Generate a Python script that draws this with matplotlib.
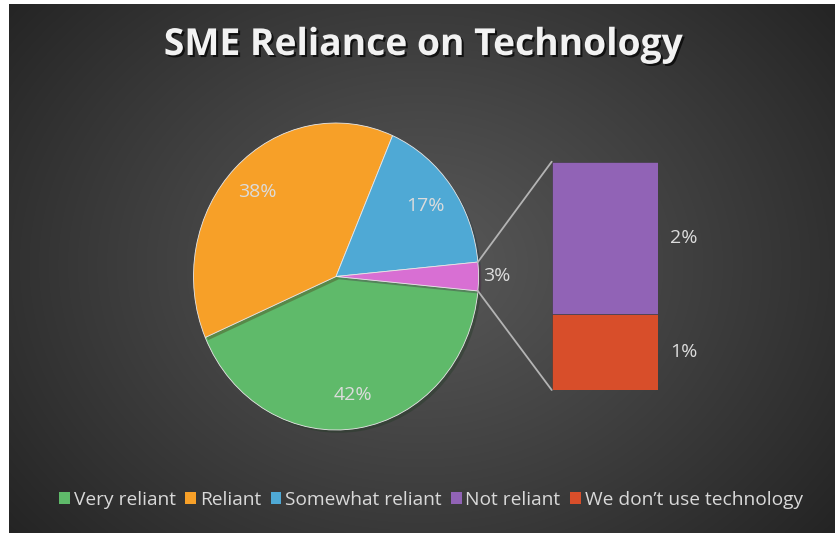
import numpy as np
import matplotlib
matplotlib.use("Agg")
import matplotlib.pyplot as plt
from matplotlib.patches import Patch, ConnectionPatch
import matplotlib.patheffects as pe

plt.rcParams['font.family'] = ['Open Sans', 'DejaVu Sans']

# ---- data ----
title = "SME Reliance on Technology"
categories = ["Very reliant", "Reliant", "Somewhat reliant", "Not reliant", "We don\u2019t use technology"]
values = [42, 38, 17, 2, 1]
colors = ["#5fba6a", "#f7a028", "#4fa9d5", "#9163b6", "#d84e2a"]
other_color = "#d86fd3"
other_count = 2  # last two categories are split out into the bar

W, H = 835, 533
fig = plt.figure(figsize=(W / 100, H / 100), dpi=100)
fig.patch.set_facecolor("white")


def box(x0, y0, x1, y1):
    """pixel box (top-left origin) -> figure fraction rect"""
    return [x0 / W, 1 - y1 / H, (x1 - x0) / W, (y1 - y0) / H]


# ---- radial gradient background ----
bg = fig.add_axes(box(9, 4, W, H))
bg.set_axis_off()
gx, gy = np.meshgrid(np.linspace(9, W, 400), np.linspace(4, H, 260))
cx, cy = 420, 265
d = np.hypot(gx - cx, (gy - cy) * 1.25)
d = np.clip(d / d.max(), 0, 1)
c0 = np.array([0x58, 0x58, 0x58]) / 255
c1 = np.array([0x24, 0x24, 0x24]) / 255
img = c0[None, None, :] + (c1 - c0)[None, None, :] * (d ** 1.1)[..., None]
bg.imshow(img, aspect="auto", extent=(0, 1, 0, 1), interpolation="bilinear")
bg.set_xlim(0, 1)
bg.set_ylim(0, 1)

# ---- main pie ----
main_vals = values[:-other_count] + [sum(values[-other_count:])]
main_cols = colors[:-other_count] + [other_color]
total = sum(values)
start = 360 - 180 * main_vals[-1] / total  # centre the combined slice on the right

axp = fig.add_axes(box(193.5, 123, 478.5, 430))
wedges, _ = axp.pie(
    main_vals, colors=main_cols, startangle=start, counterclock=False,
    radius=1.0, wedgeprops=dict(edgecolor="#e8e8e8", linewidth=0.6),
)
for w in wedges:
    w.set_path_effects([pe.SimplePatchShadow(offset=(2, -2), alpha=0.35), pe.Normal()])
axp.set_aspect("auto")
axp.set_xlim(-1, 1)
axp.set_ylim(-1, 1)
axp.set_axis_off()

label_color = "#dcdcdc"
for w, v in zip(wedges, main_vals):
    mid = np.deg2rad((w.theta1 + w.theta2) / 2)
    if v >= 5:
        axp.text(0.78 * np.cos(mid), 0.78 * np.sin(mid), f"{v}%", ha="center", va="center",
                 fontsize=14, color=label_color)
    else:
        axp.text(1.03 * np.cos(mid), np.sin(mid), f"{v}%", ha="left", va="center",
                 fontsize=14, color=label_color)

# ---- stacked bar for the split-out slice ----
axb = fig.add_axes(box(551.7, 161.7, 658.3, 390))
bottom = 0
sub_vals = values[-other_count:][::-1]
sub_cols = colors[-other_count:][::-1]
for v, c in zip(sub_vals, sub_cols):
    axb.bar(0, v, bottom=bottom, width=1.0, color=c, edgecolor="#3a3a3a", linewidth=0.4)
    axb.annotate(f"{v}%", xy=(0.5, bottom + v / 2), xytext=(12, 0), textcoords="offset pixels",
                 ha="left", va="center", fontsize=14, color=label_color)
    bottom += v
axb.set_xlim(-0.5, 0.5)
axb.set_ylim(0, bottom)
axb.set_axis_off()

# ---- connector lines ----
ow = wedges[-1]
for ang, yb in ((ow.theta2, bottom), (ow.theta1, 0)):
    a = np.deg2rad(ang)
    con = ConnectionPatch(xyA=(np.cos(a), np.sin(a)), coordsA=axp.transData,
                          xyB=(-0.5, yb), coordsB=axb.transData,
                          color="#b4b4b4", linewidth=1.3)
    fig.add_artist(con)

# ---- title ----
fig.text(423 / W, 1 - 45 / H, title, ha="center", va="center", fontsize=26.8,
         fontweight="bold", color="#f2f2f2",
         path_effects=[pe.withSimplePatchShadow(offset=(1.5, -1.5), shadow_rgbFace="black", alpha=0.7)])

# ---- legend ----
handles = [Patch(facecolor=c, edgecolor="none") for c in colors]
leg = fig.legend(handles, categories, loc="center", bbox_to_anchor=(431 / W, 1 - 500 / H),
                 ncol=len(categories), frameon=False, fontsize=13.8,
                 handlelength=0.55, handleheight=0.6, handletextpad=0.2, columnspacing=0.5,
                 labelcolor="#d9d9d9")

fig.savefig("out.png", dpi=100, facecolor=fig.get_facecolor())
